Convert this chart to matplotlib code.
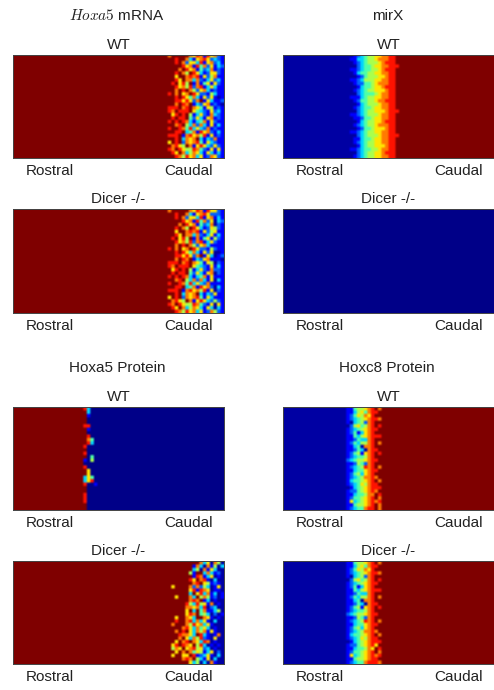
import numpy as np
import matplotlib
matplotlib.use("Agg")
import matplotlib.pyplot as plt

plt.rcParams['font.family'] = ['Liberation Sans', 'DejaVu Sans']
plt.rcParams['mathtext.fontset'] = 'cm'

N_ROWS, N_COLS = 30, 60
tick_labels = ["Rostral", "Caudal"]
headings = [r"$Hoxa5$ mRNA", "mirX", "Hoxa5 Protein", "Hoxc8 Protein"]
genotypes = ["WT", "Dicer -/-"]

# Digits 0-9 are expression levels; only the varying window of each row is listed.
mrna_wt = [
"97999997687186721","99989973167862321","99989726638167231","99999867184726132","99997986714237121",
"99989759863126621","99969978781625711","99986977372136231","99896859171461621","99986758278136311",
"99979897526731211","98979679862215311","99989864731626101","99988686279163112","99979879132671210",
"98889789764165121","98798889643216231","99689895136217321","99898894263167121","98989873134716211",
"99978953727316131","98998748363271211","99988934718672131","98889178675816121","99989376793132711",
"96989276784163211","99786597168632621","98798655874216161","99869735763163131","99987586736127621",
]
mrna_dicer = [
"97999997687186621","99989973167862221","99989726638167131","99999867184726032","99997986714237021",
"99989759863126521","99969978781625611","99986977372136131","99896859171461521","99986758278136211",
"99979897526731111","98979679862215211","99989864731626001","99988686279163012","99979879132671110",
"98889789764165021","98798889643216131","99689895136217221","99898894263167021","98989873134716111",
"99978953727316031","98998748363271111","99988934718672031","98889178675816021","99989376793132611",
"96989276784163111","99786597168632521","98798655874216061","99869735763163031","99987586736127521",
]
mirx_wt = [
"0012345566778899","0113345567778899","0012345556788899","0002344566778889","0112344556788899",
"0013445566778899","0001245556678899","0112355566778899","0012244567778899","0001344566788899",
"0012345566678899","0002344456778899","0111345566778899","0012445567788899","0001345556778899",
"0012344566778899","0002345566678889","0112345556778899","0011244566778899","0001345566788899",
"0012345567778899","0001244566678899","0112345566778899","0002345556778889","0011344566778899",
"0012345566778899","0001345566678899","0112344556778899","0002345566788899","0012345566778899",
]
mirx_dicer = ["0"] * N_ROWS
hoxa5_wt = [
"983000","993000","991000","990000","990000","988000","991000","990000","998000","997400",
"998300","980000","990000","980000","990400","910500","900000","980000","996000","996000",
"936400","936800","980010","990000","990000","980000","980000","980000","990000","990000",
]
hoxa5_dicer = [
"99999999997360750","99999999173071503","99999999350716300","99999995199373120","99999999187136010",
"99999998697810300","99999999789651210","99699997272530160","99999996818760110","99999993968371301",
"99969997395751201","99999997879130100","99999985385617010","99999977673802300","99999969394711350",
"99999968794530201","99969976399761010","99989978373610300","99799975867361000","99999786374630100",
"99979896375716100","99998776398310170","99997963758210600","99969789763870100","99689876958301010",
"99576967856230100","99969797465136020","99699669812361030","99999787953160300","99999996350307100",
]
hoxc8_wt = [
"011455678979","011356478899","012465768999","012345678879","010345278999",
"002564578989","012345678899","012413678999","011435678889","011243378999",
"012435578979","011340778999","011243078899","012451678989","012344578999",
"023455678899","011254278999","012345878979","011344678899","012453678999",
"012345778799","013445678979","012346578899","001345678889","012245678799",
"011344577989","012445678979","016345678789","011455678979","012344788979",
]
hoxc8_dicer = [
"011455678979","011356478899","012465768999","012345678879","010345278999",
"002564578989","012345678899","012413678999","011435678889","011243378999",
"012435578979","011340778999","011243078899","012451678989","012344578999",
"023455678899","011254278999","012345878979","011344678899","012453678999",
"012345778799","013445678979","012346578899","001345678889","012245678699",
"011344576989","012445678979","016345678789","011455678899","012344788879",
]

def grid(rows, left, start, right, floor):
    m = np.full((N_ROWS, N_COLS), float(right))
    m[:, :start] = left
    for i, r in enumerate(rows):
        v = [int(c) for c in r]
        m[i, start:start + len(v)] = v
    return np.maximum(m, floor)

W, H = 494, 690
fig = plt.figure(figsize=(W / 100, H / 100), dpi=100)

def panel(x0, y0, y1, m, title):
    ax = fig.add_axes([x0 / W, 1 - y1 / H, 211 / W, (y1 - y0) / H])
    ax.imshow(m, cmap="jet", vmin=0, vmax=9, aspect="auto", interpolation="hermite",
              interpolation_stage="rgba", extent=(0, N_COLS, N_ROWS, 0))
    ax.set_yticks([])
    ax.set_xticks([10.5, 50], tick_labels, fontsize=11, color="#222222")
    ax.tick_params(axis="x", length=0, pad=4)
    ax.set_title(title, fontsize=11, pad=4, color="#222222")
    for s in ax.spines.values():
        s.set_linewidth(0.7)
        s.set_color("#444444")
    return ax

XL, XR = 13, 283
panel(XL, 55, 158, grid(mrna_wt, 9, 43, 1, 0.3), genotypes[0])
panel(XL, 209, 313, grid(mrna_dicer, 9, 43, 1, 0.3), genotypes[1])
panel(XL, 407, 510, grid(hoxa5_wt, 9, 19, 0.1, 0.1), genotypes[0])
panel(XL, 561, 664, grid(hoxa5_dicer, 9, 43, 1, 0.3), genotypes[1])
panel(XR, 55, 158, grid(mirx_wt, 0.3, 18, 9, 0.3), genotypes[0])
panel(XR, 209, 313, grid(mirx_dicer, 0.1, 0, 0.1, 0.1), genotypes[1])
panel(XR, 407, 510, grid(hoxc8_wt, 0.3, 17, 9, 0.3), genotypes[0])
panel(XR, 561, 664, grid(hoxc8_dicer, 0.3, 17, 9, 0.3), genotypes[1])

for (xc, yc), h in zip([(117, 16), (388, 16), (117, 368), (387, 368)], headings):
    fig.text(xc / W, 1 - yc / H, h, ha="center", va="center", fontsize=11, color="#222222")

fig.savefig("out.png", dpi=100)
